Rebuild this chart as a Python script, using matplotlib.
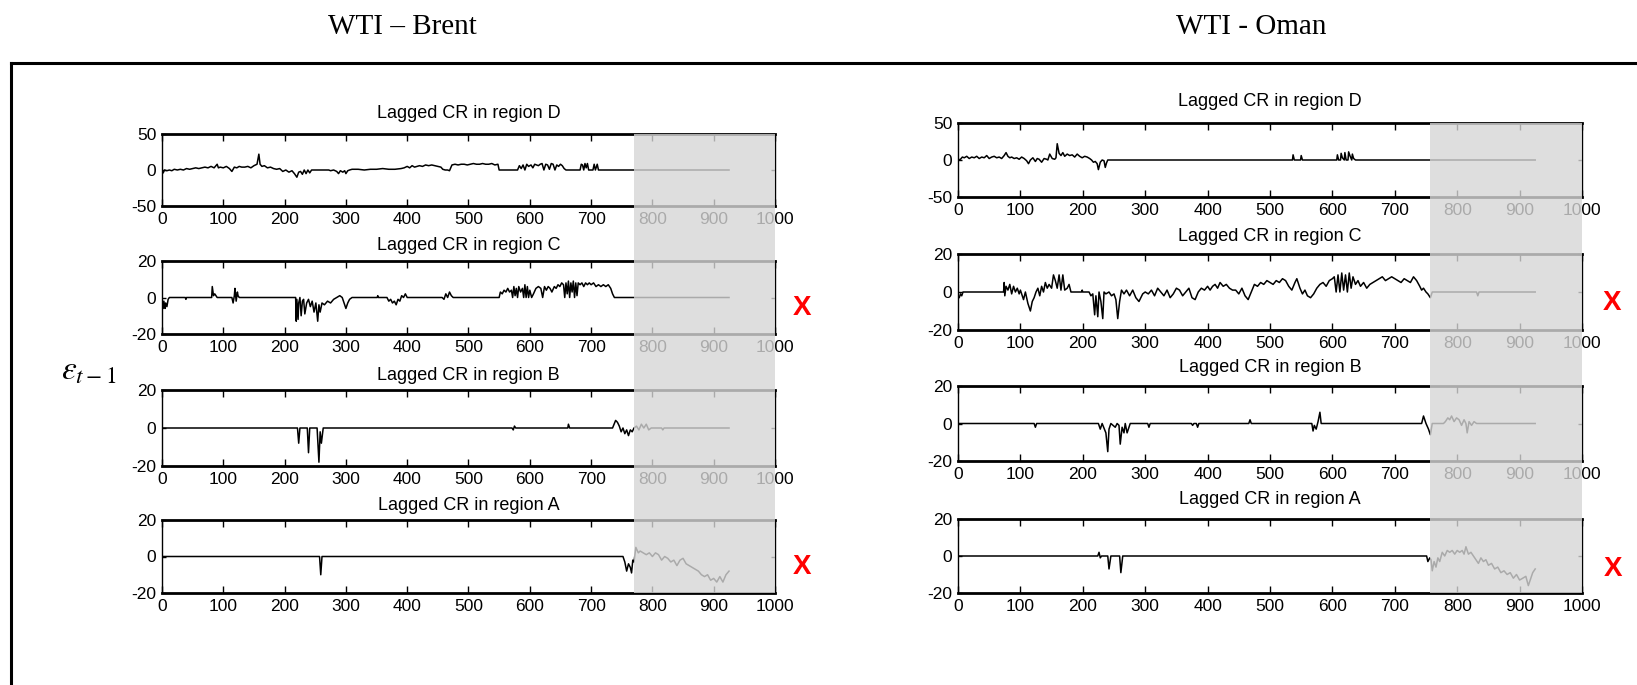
import numpy as np
import matplotlib.pyplot as plt
from matplotlib.patches import Rectangle
from matplotlib.lines import Line2D

plt.rcParams['font.family'] = 'Liberation Sans'
plt.rcParams['axes.unicode_minus'] = False
plt.rcParams['mathtext.fontset'] = 'stix'

W, H = 1637, 685

# ---------------- data ----------------
# WTI - Brent
brent_d_x = [0, 2, 4, 8, 12, 16, 20, 25, 30, 35,
             40, 45, 50, 55, 60, 65, 70, 75, 80, 85,
             90, 92, 95, 100, 105, 110, 114, 118, 122, 126,
             130, 135, 140, 145, 150, 155, 158, 160, 163, 167,
             172, 177, 182, 187, 192, 197, 202, 207, 212, 216,
             220, 223, 226, 229, 232, 235, 238, 241, 244, 272,
             275, 280, 285, 288, 291, 295, 298, 300, 303, 306,
             310, 320, 330, 340, 350, 360, 370, 380, 390, 395,
             400, 404, 408, 412, 416, 420, 425, 430, 435, 440,
             445, 450, 455, 458, 462, 466, 469, 473, 478, 483,
             488, 493, 498, 503, 508, 513, 518, 523, 528, 533,
             538, 543, 548, 550, 580, 583, 586, 589, 592, 595,
             598, 602, 605, 608, 611, 614, 617, 620, 623, 626,
             629, 632, 635, 638, 641, 644, 647, 650, 653, 656,
             659, 682, 684, 686, 688, 690, 692, 694, 696, 703,
             705, 707, 710, 712, 925]
brent_d_y = [-1, -4, 0, -1, 0, -1, 1, 0, 1, 0,
             2, 1, 2, 3, 2, 3, 4, 3, 5, 3,
             8, 3, 4, 3, 5, 2, -2, 4, 3, 5,
             4, 4, 5, 3, 6, 8, 22, 8, 5, 6,
             3, 4, 2, 1, 2, -2, 0, -3, -1, -5,
             -10, -3, -2, -6, 0, -5, 0, -4, 0, 0,
             -1, 0, -2, -5, -1, -3, -1, -5, -1, 0,
             1, 1, 0, 1, 1, 2, 1, 1, 2, 3,
             5, 3, 6, 4, 5, 6, 5, 7, 6, 7,
             6, 5, 4, 1, 0, 0, -1, 7, 8, 7,
             8, 8, 7, 8, 9, 8, 8, 9, 8, 8,
             9, 7, 8, 0, 0, 6, 2, 7, 0, 8,
             5, 7, 3, 8, 7, 6, 8, 9, 0, 8,
             7, 1, 9, 8, 0, 7, 5, 8, 6, 2,
             0, 0, 8, 7, 0, 9, 3, 9, 0, 0,
             8, 0, 8, 0, 0]

brent_c_x = [0, 2, 3, 5, 6, 8, 10, 12, 38, 39,
             40, 81, 82, 84, 86, 88, 90, 114, 116, 118,
             119, 121, 123, 124, 126, 218, 219, 220, 222, 223,
             225, 227, 229, 231, 233, 236, 239, 242, 245, 248,
             251, 254, 256, 258, 261, 265, 270, 275, 280, 285,
             290, 294, 297, 300, 303, 306, 310, 351, 352, 353,
             367, 370, 373, 376, 379, 382, 385, 388, 391, 394,
             397, 400, 457, 460, 463, 466, 469, 472, 475, 550,
             552, 555, 558, 561, 564, 567, 570, 572, 574, 576,
             578, 580, 582, 585, 588, 590, 592, 594, 596, 598,
             600, 603, 606, 610, 614, 618, 621, 624, 627, 630,
             633, 636, 640, 643, 646, 649, 652, 655, 657, 659,
             661, 663, 665, 667, 669, 671, 673, 675, 677, 679,
             682, 685, 688, 691, 694, 697, 700, 704, 708, 712,
             716, 720, 724, 728, 732, 735, 738, 925]
brent_c_y = [-1, -6, -2, -6, -3, -5, -1, 0, 0, -1,
             0, 0, 6, 1, 2, 1, 0, 0, -3, 1,
             5, -2, 3, 1, 0, 0, -13, -1, -12, -3,
             0, -10, -2, -1, -9, -3, -1, -5, -2, -8,
             -3, -13, -4, -8, -3, -4, -2, -3, -1, 0,
             1, 0, -3, -6, -3, -1, 0, 0, 1, 0,
             0, -2, -1, -3, -2, -4, -1, -2, 1, 0,
             2, 0, 0, -1, 2, 0, 3, 1, 0, 0,
             3, 2, 4, 3, 5, 3, 4, 0, 6, 1,
             5, 0, 6, 3, 5, 0, 7, 0, 6, 0,
             4, 0, 2, 5, 6, 5, 0, 6, 4, 6,
             5, 3, 6, 5, 7, 6, 8, 7, 0, 8,
             2, 9, 0, 8, 3, 9, 0, 8, 1, 8,
             7, 8, 6, 8, 7, 8, 7, 8, 6, 7,
             6, 7, 6, 7, 5, 2, 0, 0]

brent_b_x = [0, 221, 223, 225, 237, 239, 241, 253, 256, 258,
             260, 263, 571, 573, 575, 577, 662, 663, 665, 735,
             740, 743, 746, 749, 752, 755, 758, 761, 764, 767,
             770, 774, 778, 782, 786, 790, 794, 798, 815, 817,
             819, 925]
brent_b_y = [0, 0, -8, 0, 0, -13, 0, 0, -18, -2,
             -8, 0, 0, -1, 1, 0, 0, 2, 0, 0,
             4, 3, 1, -2, 0, -3, -1, -4, -1, -2,
             0, 1, -1, 2, 0, 2, -1, 0, 0, -1,
             0, 0]

brent_a_x = [0, 257, 259, 261, 752, 755, 758, 761, 764, 766,
             768, 770, 773, 777, 780, 785, 790, 795, 800, 805,
             810, 815, 820, 825, 830, 835, 840, 845, 850, 855,
             860, 865, 870, 875, 880, 885, 890, 895, 900, 905,
             910, 915, 920, 925]
brent_a_y = [0, 0, -10, 0, 0, -3, -8, -4, -6, -9,
             -2, -3, 5, 2, 3, 2, 1, 2, 0, 2,
             1, -2, 0, -1, -3, -2, -5, -2, -1, -4,
             -5, -6, -7, -8, -10, -11, -10, -13, -12, -14,
             -11, -14, -10, -8]

# WTI - Oman
oman_d_x = [0, 4, 7, 10, 14, 18, 22, 26, 30, 34,
            38, 42, 46, 50, 54, 58, 62, 66, 70, 74,
            77, 80, 83, 86, 90, 94, 98, 102, 106, 110,
            113, 116, 120, 124, 127, 130, 134, 138, 142, 144,
            147, 151, 155, 157, 159, 162, 165, 168, 171, 175,
            179, 183, 187, 191, 195, 199, 203, 207, 211, 214,
            217, 220, 223, 225, 228, 231, 234, 236, 238, 240,
            536, 537, 539, 549, 550, 552, 607, 608, 610, 613,
            614, 616, 619, 620, 622, 625, 626, 628, 631, 632,
            634, 637, 925]
oman_d_y = [0, 1, 4, 3, 5, 2, 4, 3, 5, 2,
            4, 3, 6, 2, 4, 5, 3, 4, 2, 6,
            10, 5, 3, 4, 2, 3, 1, 4, 2, -1,
            -5, 0, 3, -2, 2, 1, -3, 2, 1, 0,
            8, 2, 1, 3, 22, 9, 6, 10, 5, 8,
            6, 7, 4, 8, 5, 3, 5, 4, 2, 0,
            -3, -2, -5, -13, -3, 0, -1, -10, -4, 0,
            0, 7, 0, 0, 6, 0, 0, 7, 0, 0,
            9, 3, 0, 10, 0, 0, 11, 6, 0, 8,
            2, 0, 0]

oman_c_x = [0, 2, 4, 6, 8, 73, 74, 75, 77, 80,
            83, 86, 89, 92, 95, 98, 100, 103, 105, 108,
            112, 116, 119, 122, 125, 128, 131, 134, 137, 140,
            143, 146, 150, 153, 156, 159, 162, 165, 168, 171,
            175, 178, 181, 198, 199, 200, 210, 213, 216, 219,
            221, 224, 226, 229, 232, 234, 237, 242, 246, 250,
            253, 256, 259, 262, 266, 270, 275, 280, 285, 290,
            293, 296, 300, 305, 310, 315, 320, 325, 330, 335,
            340, 345, 350, 355, 360, 365, 370, 375, 380, 385,
            390, 395, 400, 404, 408, 412, 416, 420, 425, 430,
            435, 440, 445, 450, 455, 460, 465, 470, 475, 480,
            485, 490, 495, 500, 505, 510, 515, 520, 525, 530,
            535, 540, 543, 548, 552, 556, 560, 565, 570, 575,
            580, 585, 590, 595, 600, 603, 606, 609, 612, 615,
            618, 621, 624, 627, 630, 633, 637, 641, 645, 650,
            655, 660, 665, 670, 675, 680, 685, 690, 695, 700,
            705, 710, 715, 720, 725, 730, 735, 740, 743, 746,
            750, 753, 757, 760, 831, 833, 835, 925]
oman_c_y = [-2, -3, -1, -2, 0, 0, 5, -2, 3, 1,
            4, -1, 3, 0, 2, -1, 1, -2, -4, 0,
            -6, -10, -5, -3, 0, 2, -2, 3, 0, 5,
            2, 4, 2, 9, 6, 2, 9, 1, 9, 1,
            2, 4, 0, 0, 1, 0, 0, -2, -1, -12,
            -2, -13, 0, -5, -14, 0, -1, 0, -2, -1,
            -4, -14, -5, 1, -1, 1, -2, 1, -3, -5,
            -3, -1, 0, -1, 1, -2, 2, 0, -2, 1,
            -3, -1, 2, 1, -2, 0, 2, -3, -4, 0,
            2, 1, 3, 1, 3, 4, 2, 5, 3, 4,
            2, 1, 1, -1, 2, -2, -4, 0, 4, 3,
            5, 4, 6, 5, 4, 6, 5, 7, 6, 3,
            1, 5, 7, 2, -1, 1, -2, -3, -1, 2,
            4, 5, 3, 6, 7, 8, 0, 9, 0, 10,
            1, 9, 0, 10, 2, 8, 4, 6, 3, 5,
            2, 4, 5, 6, 7, 8, 6, 7, 8, 7,
            6, 5, 7, 6, 5, 8, 6, 3, 1, 2,
            0, -1, -3, 0, 0, -2, 0, 0]

oman_b_x = [0, 122, 124, 126, 225, 228, 231, 237, 240, 242,
            245, 252, 255, 258, 260, 263, 266, 268, 271, 274,
            276, 304, 306, 308, 374, 376, 378, 382, 384, 386,
            466, 468, 470, 567, 569, 571, 574, 577, 580, 582,
            743, 746, 750, 754, 757, 760, 778, 781, 785, 788,
            791, 795, 799, 803, 807, 811, 814, 816, 819, 823,
            827, 831, 836, 925]
oman_b_y = [0, 0, -2, 0, 0, -3, 0, -5, -15, -3,
            0, -2, 0, -1, -11, -2, -5, 0, -5, -2,
            0, 0, -2, 0, 0, -1, 0, 0, -2, 0,
            0, 2, 0, 0, -4, -1, -3, 1, 6, 0,
            0, 4, 0, -3, -6, 0, 0, 1, 3, 2,
            4, 1, 3, 2, -1, 2, 0, -5, 1, -1,
            1, 0, 0, 0]

oman_a_x = [0, 224, 226, 228, 230, 240, 242, 245, 259, 261,
            264, 751, 753, 756, 758, 760, 763, 766, 769, 772,
            776, 780, 784, 788, 792, 796, 800, 804, 808, 811,
            814, 818, 822, 826, 830, 834, 838, 842, 846, 850,
            855, 860, 865, 870, 875, 880, 885, 890, 895, 900,
            905, 910, 914, 918, 921, 925]
oman_a_y = [0, 0, 2, -1, 0, 0, -7, 0, 0, -9,
            0, 0, -3, -1, -2, -8, -3, -6, -1, -3,
            2, 0, 3, 2, 3, 1, 3, 2, 3, 1,
            5, 1, 2, 0, -2, -4, -1, -3, -2, -5,
            -4, -7, -6, -9, -8, -10, -9, -12, -10, -13,
            -12, -11, -16, -12, -9, -7]

regions = ['D', 'C', 'B', 'A']
limits = [50, 20, 20, 20]
brent_series = [(brent_d_x, brent_d_y), (brent_c_x, brent_c_y),
                (brent_b_x, brent_b_y), (brent_a_x, brent_a_y)]
oman_series = [(oman_d_x, oman_d_y), (oman_c_x, oman_c_y),
               (oman_b_x, oman_b_y), (oman_a_x, oman_a_y)]
shade_start = {'brent': 770, 'oman': 757}


def px_rect(x0, x1, top, bottom):
    return [x0 / W, 1 - bottom / H, (x1 - x0) / W, (bottom - top) / H]


def draw_panel(fig, rect, x, y, lim, title, gap):
    ax = fig.add_axes(rect)
    ax.plot(x, y, color='black', lw=1.1)
    ax.set_xlim(0, 1000)
    ax.set_ylim(-lim, lim)
    ax.set_xticks(range(0, 1001, 100))
    ax.set_yticks([-lim, 0, lim])
    ax.tick_params(direction='in', top=True, right=True, labelsize=12.5)
    ax.tick_params(axis='x', length=5, width=1, pad=4.5)
    ax.tick_params(axis='y', length=3, width=1, pad=4)
    for s in ['top', 'bottom']:
        ax.spines[s].set_linewidth(2)
    for s in ['left', 'right']:
        ax.spines[s].set_linewidth(1)
    ax.annotate(title, xy=(0.5, 1), xycoords='axes fraction',
                xytext=(0, gap * 0.72), textcoords='offset points',
                ha='center', va='center', fontsize=13)
    return ax


fig = plt.figure(figsize=(W / 100, H / 100), dpi=100)

# panel boxes in pixels: (left, right, [(top, bottom) x4], title gaps)
layouts = {
    'brent': (162, 775, [(134, 206), (261, 334), (390, 466), (520, 593)], [21, 15, 14, 15]),
    'oman': (958, 1582, [(123, 197), (254, 330), (386, 461), (519, 593)], [21, 18, 19, 19]),
}

for key, series in [('brent', brent_series), ('oman', oman_series)]:
    x0, x1, boxes, gaps = layouts[key]
    axes = []
    for (sx, sy), reg, lim, (top, bot), gap in zip(series, regions, limits, boxes, gaps):
        ax = draw_panel(fig, px_rect(x0, x1, top, bot), sx, sy, lim,
                        'Lagged CR in region ' + reg, gap)
        axes.append(ax)
    # grey out-of-sample overlay across the four panels
    p_top = axes[0].get_position()
    p_bot = axes[-1].get_position()
    xs = p_bot.x0 + p_bot.width * shade_start[key] / 1000
    fig.add_artist(Rectangle((xs, p_bot.y0), p_bot.x1 - xs, p_top.y1 - p_bot.y0,
                             transform=fig.transFigure, facecolor='0.84',
                             edgecolor='none', alpha=0.8, zorder=5))

# outer frame
ytop = 1 - 63 / H
xl = 10.5 / W
fig.add_artist(Line2D([xl, 1.0], [ytop, ytop], color='black', lw=2.2,
                      transform=fig.transFigure))
fig.add_artist(Line2D([xl, xl], [ytop, 0.0], color='black', lw=2.2,
                      transform=fig.transFigure))

# headings
fig.text(402 / W, 1 - 27 / H, 'WTI – Brent', family='Liberation Serif',
         fontsize=21, ha='center', va='center')
fig.text(1251 / W, 1 - 27 / H, 'WTI - Oman', family='Liberation Serif',
         fontsize=21, ha='center', va='center')
fig.text(89 / W, 1 - 371 / H, r'$\varepsilon_{t-1}$', fontsize=24,
         ha='center', va='center')

# red crosses
for px, py in [(802, 308), (802, 567), (1612, 303), (1613, 569)]:
    fig.text(px / W, 1 - py / H, 'X', color='red', fontsize=20,
             fontweight='bold', ha='center', va='center')

plt.savefig('out.png', dpi=100)
